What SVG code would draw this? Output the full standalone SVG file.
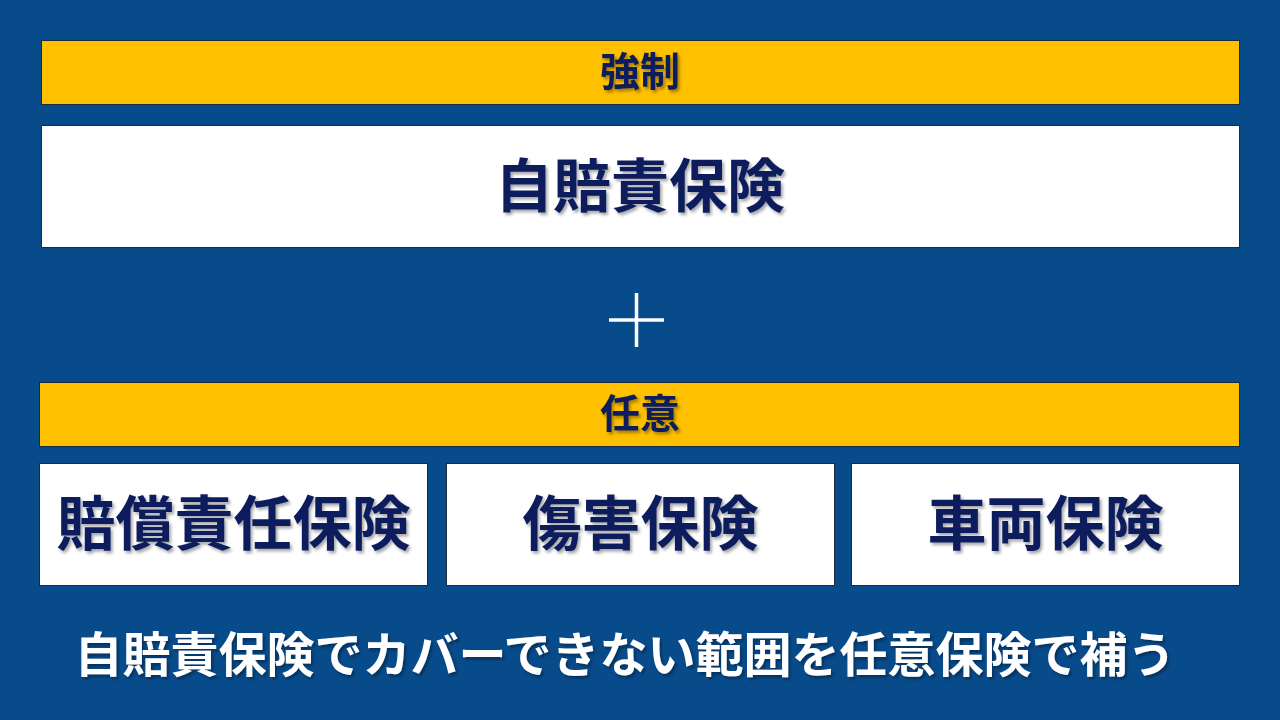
<svg xmlns="http://www.w3.org/2000/svg" width="1280" height="720" viewBox="0 0 1280 720">
<defs>
<filter id="sh" x="-10%" y="-20%" width="120%" height="140%">
<feDropShadow dx="2" dy="2.5" stdDeviation="1.5" flood-color="#000" flood-opacity="0.35"/>
</filter>
<style>
.bar{fill:#FFC000;stroke:#1a2a40;stroke-width:1}
.box{fill:#FFFFFF;stroke:#1a2a40;stroke-width:1}
.t{font-family:"Noto Sans CJK JP","Noto Sans",sans-serif;font-weight:bold;fill:#0F1F5C;text-anchor:middle;dominant-baseline:central;filter:url(#sh)}
.w{font-family:"Noto Sans CJK JP","Noto Sans",sans-serif;font-weight:bold;fill:#FFFFFF;text-anchor:middle;dominant-baseline:central;filter:url(#sh)}
</style>
</defs>
<rect x="0" y="0" width="1280" height="720" fill="#084B8B"/>
<g id="kyosei">
<rect class="bar" x="41.5" y="40.5" width="1198" height="64"/>
<text class="t" x="640" y="69" font-size="40">強制</text>
</g>
<g id="jibaiseki">
<rect class="box" x="41.5" y="125.5" width="1198" height="122"/>
<text class="t" x="640" y="182" font-size="58">自賠責保険</text>
</g>
<g id="plus">
<line x1="609" y1="320" x2="664" y2="320" stroke="#FFFFFF" stroke-width="3.5"/>
<line x1="636.5" y1="293" x2="636.5" y2="347" stroke="#FFFFFF" stroke-width="3.5"/>
</g>
<g id="nini">
<rect class="bar" x="39.5" y="382.5" width="1200" height="64"/>
<text class="t" x="640" y="411" font-size="40">任意</text>
</g>
<g id="baisho">
<rect class="box" x="39.5" y="463.5" width="388" height="122"/>
<text class="t" x="233.5" y="519" font-size="59">賠償責任保険</text>
</g>
<g id="shogai">
<rect class="box" x="446.5" y="463.5" width="388" height="122"/>
<text class="t" x="640.5" y="519" font-size="59">傷害保険</text>
</g>
<g id="sharyo">
<rect class="box" x="851.5" y="463.5" width="388" height="122"/>
<text class="t" x="1045.5" y="519" font-size="59">車両保険</text>
</g>
<g id="caption">
<text class="w" x="625" y="651" font-size="48" font-weight="600">自賠責保険でカバーできない範囲を任意保険で補う</text>
</g>
<g id="connectors"></g>
</svg>
